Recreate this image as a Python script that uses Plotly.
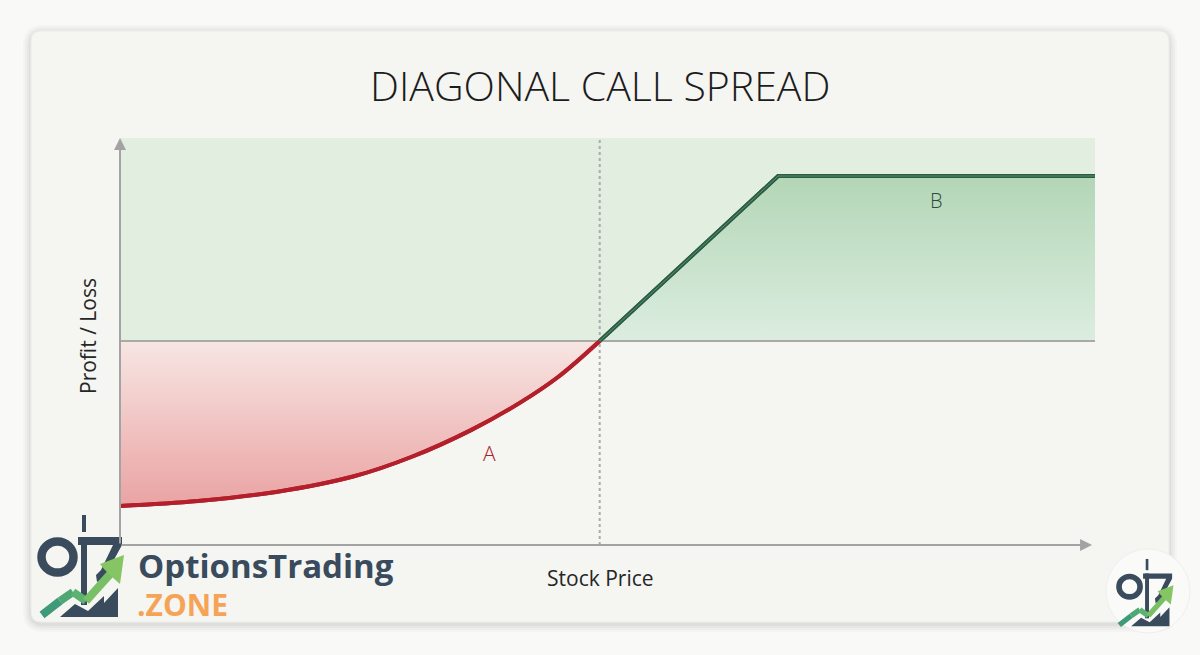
import plotly.graph_objects as go

# ---------------- data ----------------
stock_a = [0, 8, 16, 24, 30, 36, 41, 45, 49.2]
pl_a = [-1.0, -0.97, -0.915, -0.82, -0.70, -0.54, -0.375, -0.215, 0.0]
stock_b = [49.2, 67.5, 100]
pl_b = [0.0, 1.0, 1.0]
breakeven = 49.2
x_end = 100
profit_zone_top = 1.23
axis_bottom = -1.236
label_a = ("A", 37.9, -0.68)
label_b = ("B", 83.7, 0.85)

TITLE = "DIAGONAL CALL SPREAD"
XLABEL = "Stock Price"
YLABEL = "Profit / Loss"

# ---------------- geometry helpers (pixel -> paper) ----------------
W, H = 1200, 655
ML, MR, MT, MB = 120, 100, 130, 110
PW, PH = W - ML - MR, H - MT - MB


def px(x):
    return (x - ML) / PW


def py(y):
    return (H - MB - y) / PH


def rrect_path(x0, y0, x1, y1, r):
    rx, ry = r / PW, r / PH
    X0, X1 = px(x0), px(x1)
    Y0, Y1 = py(y0), py(y1)
    return (f"M {X0+rx},{Y0} L {X1-rx},{Y0} Q {X1},{Y0} {X1},{Y0-ry} "
            f"L {X1},{Y1+ry} Q {X1},{Y1} {X1-rx},{Y1} L {X0+rx},{Y1} "
            f"Q {X0},{Y1} {X0},{Y1+ry} L {X0},{Y0-ry} Q {X0},{Y0} {X0+rx},{Y0} Z")


def poly_path(pts):
    return "M " + " L ".join(f"{px(x)},{py(y)}" for x, y in pts) + " Z"


def line_path(pts):
    return "M " + " L ".join(f"{px(x)},{py(y)}" for x, y in pts)


shapes = []

# page shadow + card
for i, a in enumerate([0.018, 0.022, 0.028, 0.035]):
    g = 8 - 2 * i
    shapes.append(dict(type="path", xref="paper", yref="paper", layer="below",
                       path=rrect_path(31 - g, 31 - g + 2, 1169 + g, 622 + g + 2, 12 + g),
                       fillcolor=f"rgba(0,0,0,{a})", line=dict(width=0)))
shapes.append(dict(type="path", xref="paper", yref="paper", layer="below",
                   path=rrect_path(31, 31, 1169, 622, 10),
                   fillcolor="#f5f5f1", line=dict(color="#ececE8", width=1)))

# profit zone background
shapes.append(dict(type="rect", xref="x", yref="y", layer="below",
                   x0=0, x1=x_end, y0=0, y1=profit_zone_top,
                   fillcolor="#e2efe0", line=dict(width=0)))

DARK = "#394b5c"


def icon(ox, oy, s, shapes):
    def T(x, y):
        return (ox + (x - 36) * s, oy + (y - 512) * s)

    def tp(pts):
        return [T(x, y) for x, y in pts]

    shapes.append(dict(type="path", xref="paper", yref="paper", layer="above",
                       path=poly_path(tp([(82, 515), (86, 515), (86, 532), (82, 532)])),
                       fillcolor=DARK, line=dict(width=0)))
    a = T(41.5, 541.5)
    b = T(73.5, 572.5)
    shapes.append(dict(type="circle", xref="paper", yref="paper", layer="above",
                       x0=px(a[0]), x1=px(b[0]), y0=py(b[1]), y1=py(a[1]),
                       line=dict(color=DARK, width=max(8.5 * s, 3)), fillcolor="rgba(0,0,0,0)"))
    shapes.append(dict(type="path", xref="paper", yref="paper", layer="above",
                       path=poly_path(tp([(81, 537), (87, 537), (87, 605), (81, 605)])),
                       fillcolor=DARK, line=dict(width=0)))
    shapes.append(dict(type="path", xref="paper", yref="paper", layer="above",
                       path=poly_path(tp([(78, 537), (122, 537), (122, 545), (104, 578),
                                          (97, 582), (96, 575), (101, 570), (113, 545), (78, 545)])),
                       fillcolor=DARK, line=dict(width=0)))
    shapes.append(dict(type="path", xref="paper", yref="paper", layer="above",
                       path=poly_path(tp([(60, 617), (75, 604), (88, 611), (104, 596),
                                          (104, 603), (118, 588), (118, 617)])),
                       fillcolor=DARK, line=dict(width=0)))
    segs = [((42, 615), (60, 601), "#3f9a78"), ((60, 601), (73, 592), "#4fa874"),
            ((73, 592), (86, 601), "#5cb270"), ((86, 601), (112, 572), "#78bf66")]
    for p0, p1, c in segs:
        shapes.append(dict(type="path", xref="paper", yref="paper", layer="above",
                           path=line_path(tp([p0, p1])),
                           line=dict(color=c, width=max(8 * s, 3))))
    shapes.append(dict(type="path", xref="paper", yref="paper", layer="above",
                       path=poly_path(tp([(124, 555), (120, 584), (112, 577), (104, 569), (100, 564)])),
                       fillcolor="#86c563", line=dict(width=0)))


icon(36, 512, 1.0, shapes)

# bottom-right badge
shapes.append(dict(type="circle", xref="paper", yref="paper", layer="above",
                   x0=px(1106), x1=px(1190), y0=py(633), y1=py(549),
                   fillcolor="#fafaf8", line=dict(color="#efefeb", width=1)))
icon(1091.6 + 36 * 0.66, 555 + 3 * 0.66, 0.66, shapes)

# ---------------- traces ----------------
fig = go.Figure()

fig.add_trace(go.Scatter(
    x=stock_a, y=pl_a, mode="lines", fill="tozeroy",
    line=dict(color="#b3202c", width=4, shape="spline"),
    fillgradient=dict(type="vertical", colorscale=[[0, "#eaa3a3"], [1, "#f7e6e3"]]),
    hoverinfo="skip", showlegend=False))

fig.add_trace(go.Scatter(
    x=stock_b, y=pl_b, mode="lines", fill="tozeroy",
    line=dict(color="#335f4c", width=4),
    fillgradient=dict(type="vertical", colorscale=[[0, "#dcede0"], [1, "#b3d6b6"]]),
    hoverinfo="skip", showlegend=False))

fig.add_trace(go.Scatter(x=[0, x_end], y=[0, 0], mode="lines",
                         line=dict(color="#a9a9a6", width=2),
                         hoverinfo="skip", showlegend=False))
fig.add_trace(go.Scatter(x=[breakeven, breakeven], y=[axis_bottom, profit_zone_top], mode="lines",
                         line=dict(color="#ababab", width=2, dash="dot"),
                         hoverinfo="skip", showlegend=False))
fig.add_trace(go.Scatter(x=stock_a, y=pl_a, mode="lines",
                         line=dict(color="#b3202c", width=4, shape="spline"),
                         hoverinfo="skip", showlegend=False))
fig.add_trace(go.Scatter(x=stock_b, y=pl_b, mode="lines",
                         line=dict(color="#2f5a48", width=4),
                         hoverinfo="skip", showlegend=False))
fig.add_trace(go.Scatter(x=stock_b, y=pl_b, mode="lines",
                         line=dict(color="#4f9a60", width=1),
                         hoverinfo="skip", showlegend=False))

annotations = [
    dict(x=0, y=profit_zone_top, ax=0, ay=axis_bottom, xref="x", yref="y", axref="x", ayref="y",
         text="", showarrow=True, arrowhead=2, arrowsize=1.2, arrowwidth=2, arrowcolor="#a3a3a3"),
    dict(x=99.7, y=axis_bottom, ax=0, ay=axis_bottom, xref="x", yref="y", axref="x", ayref="y",
         text="", showarrow=True, arrowhead=2, arrowsize=1.2, arrowwidth=2, arrowcolor="#a3a3a3"),
    dict(x=px(600), y=py(85), xref="paper", yref="paper", text=TITLE, showarrow=False,
         xanchor="center", yanchor="middle",
         font=dict(family="Open Sans", size=41, color="#1c1c1c", weight=300)),
    dict(x=px(600), y=py(578), xref="paper", yref="paper", text=XLABEL, showarrow=False,
         xanchor="center", yanchor="middle",
         font=dict(family="Open Sans", size=21, color="#262626")),
    dict(x=px(88), y=py(336), xref="paper", yref="paper", text=YLABEL, showarrow=False,
         xanchor="center", yanchor="middle",
         textangle=-90, font=dict(family="Open Sans", size=21, color="#262626")),
    dict(x=label_a[1], y=label_a[2], xref="x", yref="y", text=label_a[0], showarrow=False,
         xanchor="center", yanchor="middle",
         font=dict(family="Open Sans", size=21, color="#a8232d", weight=300)),
    dict(x=label_b[1], y=label_b[2], xref="x", yref="y", text=label_b[0], showarrow=False,
         xanchor="center", yanchor="middle",
         font=dict(family="Open Sans", size=20, color="#2f4a3c", weight=300)),
    dict(x=px(136), y=py(565), xref="paper", yref="paper", text="<b>OptionsTrading</b>",
         showarrow=False, xanchor="left", yanchor="middle",
         font=dict(family="Open Sans", size=33, color="#394b5c", weight=600)),
    dict(x=px(135), y=py(604), xref="paper", yref="paper", text="<b>.ZONE</b>",
         showarrow=False, xanchor="left", yanchor="middle",
         font=dict(family="Open Sans", size=30, color="#f5a457")),
]

fig.update_layout(
    width=W, height=H, autosize=False,
    margin=dict(l=ML, r=MR, t=MT, b=MB, pad=0),
    paper_bgcolor="#f9f9f7", plot_bgcolor="rgba(0,0,0,0)",
    xaxis=dict(range=[0, PW / 9.75], visible=False, fixedrange=True),
    yaxis=dict(range=[-(H - MB - 341) / 165, (341 - MT) / 165], visible=False, fixedrange=True),
    shapes=shapes, annotations=annotations, showlegend=False,
)

fig.write_html("out.html", config={"displayModeBar": False},
               post_script="document.body.style.margin='0';document.body.style.background='#f9f9f7';")
